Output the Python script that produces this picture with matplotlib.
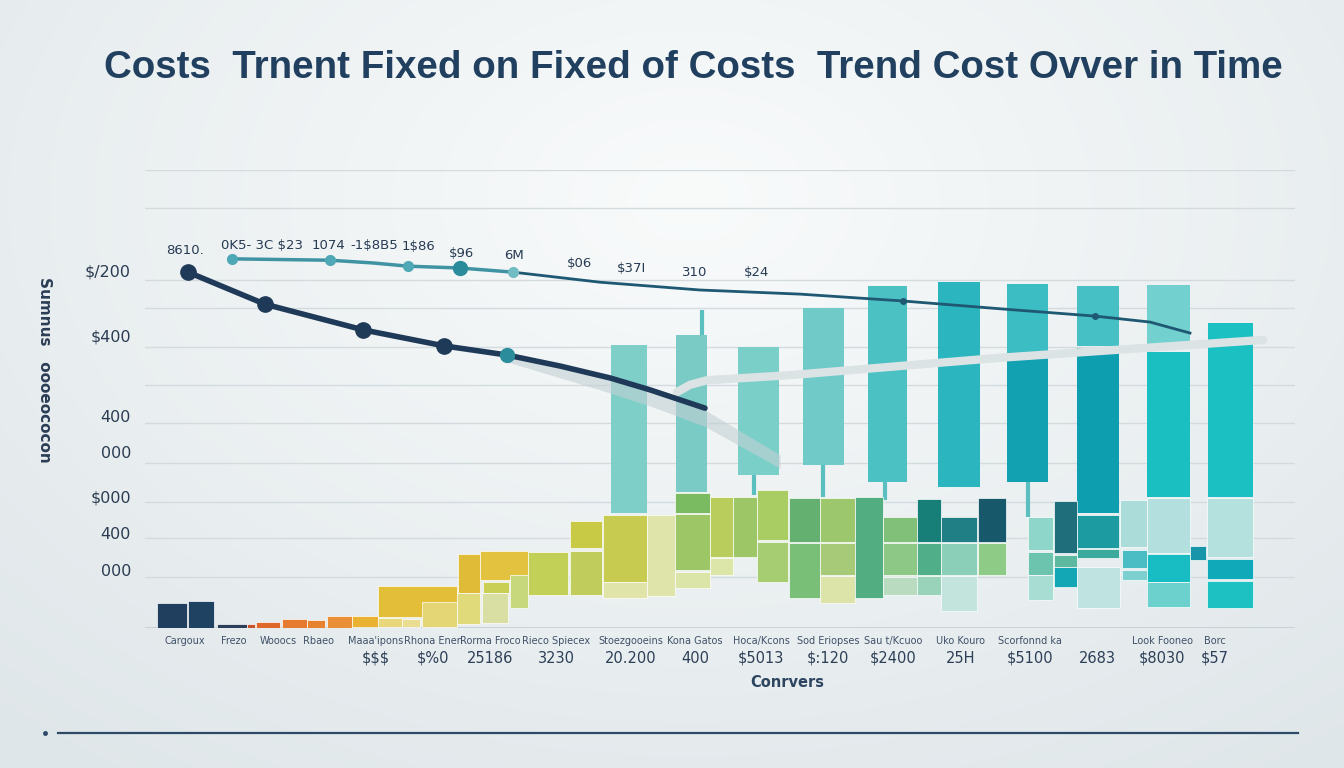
import numpy as np
import matplotlib.pyplot as plt
from matplotlib.colors import LinearSegmentedColormap
from matplotlib.lines import Line2D

# ---- data ----
title = "Costs  Trnent Fixed on Fixed of Costs  Trend Cost Ovver in Time"

ytick_vals = [780, 638, 463, 384, 288, 207, 127]
ytick_labels = ["$/200", "$400", "400", "000", "$000", "400", "000"]
grid_vals = [1000, 917, 760, 699, 614, 531, 448, 360, 275, 197, 111]

cat_x = [4.0, 8.9, 13.3, 17.3, 23.1, 28.8, 34.5, 41.1, 48.6, 55.0, 61.6,
         68.3, 74.8, 81.6, 88.5, 95.2, 101.7, 107.0]
cat_names = ["Cargoux", "Frezo", "Wooocs", "Rbaeo", "Maaa'ipons", "Rhona Enen",
             "Rorma Froco", "Rieco Spiecex", "Stoezgooeins", "Kona Gatos",
             "Hoca/Kcons", "Sod Eriopses", "Sau t/Kcuoo", "Uko Kouro",
             "Scorfonnd ka", "", "Look Fooneo", "Borc"]
cat_values = ["", "", "", "", "$$$", "$%0", "25186", "3230", "20.200", "400",
              "$5013", "$:120", "$2400", "25H", "$5100", "2683", "$8030", "$57"]

# dark cost line
fixed_x = [4.3, 12.0, 21.8, 29.9, 36.2, 41.5, 46.5, 50.5, 56.0]
fixed_v = [777, 707, 651, 616, 596, 572, 546, 520, 480]
# teal trend line
trend_x = [8.7, 18.5, 22.8, 26.3, 31.5, 36.8, 45.5, 55.5, 65.5, 75.8, 85.5, 95.0, 100.5, 104.5]
trend_v = [806, 803, 797, 790, 786, 777, 755, 738, 729, 714, 697, 681, 668, 644]
trend_labels = ["8610.", "0K5- 3C $23", "1074", "-1$8B5", "1$86", "$96", "6M",
                "$06", "$37I", "310", "$24"]
trend_label_x = [4.0, 11.7, 18.3, 22.9, 27.3, 31.6, 36.9, 43.5, 48.7, 55.0, 61.2]
trend_label_v = [825, 836, 836, 836, 834, 817, 814, 795, 786, 777, 777]
# pale overall trend
pale_x = [53.2, 54.5, 56.2, 64.5, 75.5, 85.5, 111.8]
pale_v = [515, 531, 541, 552, 572, 590, 629]
# fading shadow under the cost line
shade_x = [36.2, 45.5, 50.5, 56.0, 63.5]
shade_hi = [596, 552, 515, 476, 378]
shade_lo = [581, 520, 485, 440, 349]

# tall teal bars
tall_left = [46.6, 53.1, 59.3, 65.8, 72.3, 79.3, 86.2, 86.2, 93.2, 93.2, 100.2, 100.2, 106.3]
tall_right = [50.2, 56.2, 63.4, 69.9, 76.2, 83.5, 90.3, 90.3, 97.4, 97.4, 104.5, 104.5, 110.8]
tall_low = [251, 297, 334, 356, 319, 308, 600, 319, 616, 251, 614, 286, 286]
tall_high = [618, 640, 614, 699, 747, 755, 751, 592, 747, 611, 749, 603, 666]
tall_color = ["#7dcfc8", "#7acbc6", "#7bcfc9", "#6fcac8", "#4cc1c4", "#2bb6bf",
              "#3cbcc3", "#11a1b1", "#46c0c5", "#0d9fb0", "#72d0cf", "#19bfc1", "#1ac0c2"]
wick_x = [55.7, 60.9, 67.8, 74.0, 88.3]
wick_lo = [640, 290, 286, 279, 242]
wick_hi = [694, 334, 356, 319, 319]

# small stacked cost blocks
blk_left = [1.2, 4.3, 7.2, 10.2, 11.1, 13.7, 16.2, 18.2, 20.7, 23.3, 23.3, 25.7, 27.7,
            31.3, 33.5, 33.8, 31.2, 33.7, 36.5, 38.3, 42.5, 42.5, 45.8, 45.8, 50.2,
            53.0, 53.0, 53.0, 56.5, 56.5, 58.8, 61.2, 61.2, 64.4, 64.4, 67.5, 67.5, 67.5,
            71.0, 73.8, 73.8, 73.8, 77.2, 77.2, 77.2, 79.6, 79.6, 79.6, 83.3, 83.3,
            88.3, 88.3, 88.3, 90.9, 90.9, 90.9, 93.2, 93.2, 93.2, 97.5, 97.7, 97.7,
            100.2, 100.2, 100.2, 104.5, 106.2, 106.2, 106.2]
blk_right = [4.2, 6.9, 10.2, 11.0, 13.5, 16.2, 18.0, 20.7, 23.3, 31.2, 25.7, 27.5, 31.2,
             33.5, 38.3, 36.4, 33.5, 36.3, 38.3, 42.3, 45.7, 45.7, 50.2, 50.2, 53.0,
             56.5, 56.5, 56.5, 58.8, 58.8, 61.2, 64.3, 64.3, 67.5, 67.5, 71.0, 71.0, 71.0,
             73.8, 77.2, 77.2, 77.2, 79.6, 79.6, 79.6, 83.2, 83.2, 83.2, 86.1, 86.1,
             90.8, 90.8, 90.8, 93.2, 93.2, 93.2, 97.4, 97.4, 97.5, 100.2, 100.2, 100.2,
             104.5, 104.5, 104.5, 106.1, 110.8, 110.8, 110.8]
blk_low = [0, 0, 0, 0, 0, 0, 0, 0, 2, 24, 2, 2, 2,
           76, 105, 76, 9, 11, 44, 72, 175, 72, 100, 65, 70,
           251, 127, 87, 155, 116, 155, 192, 100, 188, 66, 188, 116, 55,
           66, 188, 116, 72, 188, 116, 72, 188, 116, 37, 188, 116,
           170, 116, 61, 164, 133, 90, 175, 153, 44, 177, 131, 105,
           164, 100, 46, 148, 155, 107, 44]
blk_high = [55, 59, 9, 9, 13, 20, 17, 26, 26, 92, 22, 20, 57,
            162, 168, 100, 76, 76, 116, 166, 234, 168, 247, 100, 247,
            295, 249, 122, 286, 153, 286, 301, 188, 284, 186, 284, 186, 114,
            286, 242, 186, 111, 282, 186, 114, 242, 186, 114, 284, 186,
            242, 166, 116, 277, 159, 133, 247, 172, 133, 279, 170, 127,
            284, 162, 100, 179, 284, 151, 103]
blk_color = ["#203f5e", "#1f4262", "#2b3f5a", "#c9532c", "#e0672a", "#e57a30", "#e7832f",
             "#e98f38", "#eab232", "#e3be38", "#e9d77c", "#eadc90", "#e5d675",
             "#dfbb38", "#e2c23e", "#c9ce55", "#e0da7a", "#d9dea2", "#c6d77c", "#c3d057",
             "#c8c944", "#c0cc5c", "#c7cc50", "#e0e4a8", "#dfe4aa",
             "#7aba60", "#9dc767", "#dce5a8", "#b8cd5b", "#dde6a9", "#9dc767", "#aacd63",
             "#a7cd73", "#63b070", "#79bf78", "#9dc76d", "#a7ca79", "#dce4a9",
             "#52ae80", "#80c079", "#8dc887", "#b9dcc1", "#187e78", "#50ae89", "#99d3b9",
             "#1f7f85", "#8bcfb9", "#c3e4dc", "#17596b", "#8dcb87",
             "#8ed5ca", "#6dc4ae", "#a7ddd3", "#1f6e7b", "#5cb89f", "#13a7b6",
             "#1c9ba1", "#3ba99b", "#bee3e1", "#abdcd9", "#49bdc3", "#7ed0d0",
             "#b3e0de", "#18bdc3", "#6cd0cc", "#1995a9", "#b4e0de", "#0fa9b9", "#1dc1c1"]

navy = "#1f3a58"

fig = plt.figure(figsize=(13.44, 7.68), dpi=100)

# soft background
bg = fig.add_axes([0, 0, 1, 1], zorder=-5)
bg.axis("off")
yy, xx = np.mgrid[0:768, 0:1344]
rr = np.sqrt(((xx - 690) / 950.0) ** 2 + ((yy - 200) / 650.0) ** 2)
bg.imshow(rr, cmap=LinearSegmentedColormap.from_list("bgc", ["#f9fbfb", "#dfe6e9"]),
          extent=[0, 1, 0, 1], aspect="auto", vmin=0, vmax=1.1)
bg.set_xlim(0, 1)
bg.set_ylim(0, 1)

fig.text(0.516, 1 - 68 / 768, title, ha="center", va="center", fontsize=27.7,
         fontweight="bold", color="#21405f", family="Liberation Sans")

ax = fig.add_axes([145 / 1344, 140 / 768, 1150 / 1344, 458 / 768])
ax.set_facecolor("none")
ax.set_xlim(0, 115)
ax.set_ylim(0, 1000)
for s in ax.spines.values():
    s.set_visible(False)

for g in grid_vals:
    ax.axhline(g, color="#d4dbdf", lw=1, zorder=0)
ax.axhline(0, color="#c6cfd4", lw=1.3, zorder=0)

ax.set_yticks(ytick_vals, ytick_labels)
ax.tick_params(axis="y", length=0, pad=10, labelsize=11.5, labelcolor="#2b3c52")
ax.set_xticks(cat_x, cat_names)
ax.tick_params(axis="x", length=0, pad=6, labelsize=7, labelcolor="#3f5068")
for x, v in zip(cat_x, cat_values):
    ax.text(x, -0.066, v, transform=ax.get_xaxis_transform(), ha="center",
            va="center", fontsize=10.5, color="#2d3f57")
ax.text(64.2, -0.12, "Conrvers", transform=ax.get_xaxis_transform(), ha="center",
        va="center", fontsize=10.5, color="#2d4560", fontweight="bold")

# bars
ax.bar(tall_left, np.subtract(tall_high, tall_low), width=np.subtract(tall_right, tall_left),
       bottom=tall_low, align="edge", color=tall_color, edgecolor="none", zorder=2)
ax.vlines(wick_x, wick_lo, wick_hi, color="#5bbfc0", lw=3, zorder=1.5)
ax.bar(blk_left, np.subtract(blk_high, blk_low), width=np.subtract(blk_right, blk_left),
       bottom=blk_low, align="edge", color=blk_color, edgecolor=(1, 1, 1, 0.7),
       linewidth=0.7, zorder=2)

# lines
ax.plot(pale_x, pale_v, color="#dbe3e5", lw=6, solid_capstyle="round", zorder=3)
ax.fill_between(shade_x, shade_lo, shade_hi, color="#c3d0d4", alpha=0.6, lw=0, zorder=3)
ax.plot(fixed_x, fixed_v, color=navy, lw=4, solid_capstyle="round", zorder=4)
ax.plot(fixed_x[:4], fixed_v[:4], "o", color=navy, ms=11, zorder=5)
ax.plot(fixed_x[4], fixed_v[4], "o", color="#2b8c9b", ms=10, zorder=5)
ax.plot(trend_x[:6], trend_v[:6], color="#3f93a3", lw=2.5, zorder=4)
ax.plot(trend_x[5:], trend_v[5:], color="#1e5872", lw=2, zorder=4)
ax.plot([trend_x[0], trend_x[1], trend_x[3]], [trend_v[0], trend_v[1], trend_v[3]], "o",
        color="#4fa8b5", ms=7, zorder=5)
ax.plot(trend_x[4], trend_v[4], "o", color="#2a8b9b", ms=10, zorder=5)
ax.plot(trend_x[5], trend_v[5], "o", color="#72bcc4", ms=7, zorder=5)
ax.plot([trend_x[9], trend_x[11]], [trend_v[9], trend_v[11]], "o", color="#1e5872", ms=4, zorder=5)

for x, v, s in zip(trend_label_x, trend_label_v, trend_labels):
    ax.text(x, v, s, ha="center", va="center", fontsize=9.5, color="#263a52", zorder=6)

# y axis title
fig.text(44 / 1344, 1 - 370 / 768, "Sumnus   oooeococon", rotation=-90, ha="center",
         va="center", fontsize=11, fontweight="bold", color="#2a3d55")

# bottom rule
fig.add_artist(Line2D([58 / 1344, 1298 / 1344], [1 - 733 / 768] * 2, color="#2d4a66", lw=1.6))
fig.add_artist(Line2D([45 / 1344], [1 - 733 / 768], marker="o", ms=2.5, color="#2d4a66"))

fig.savefig("out.png", dpi=100)
